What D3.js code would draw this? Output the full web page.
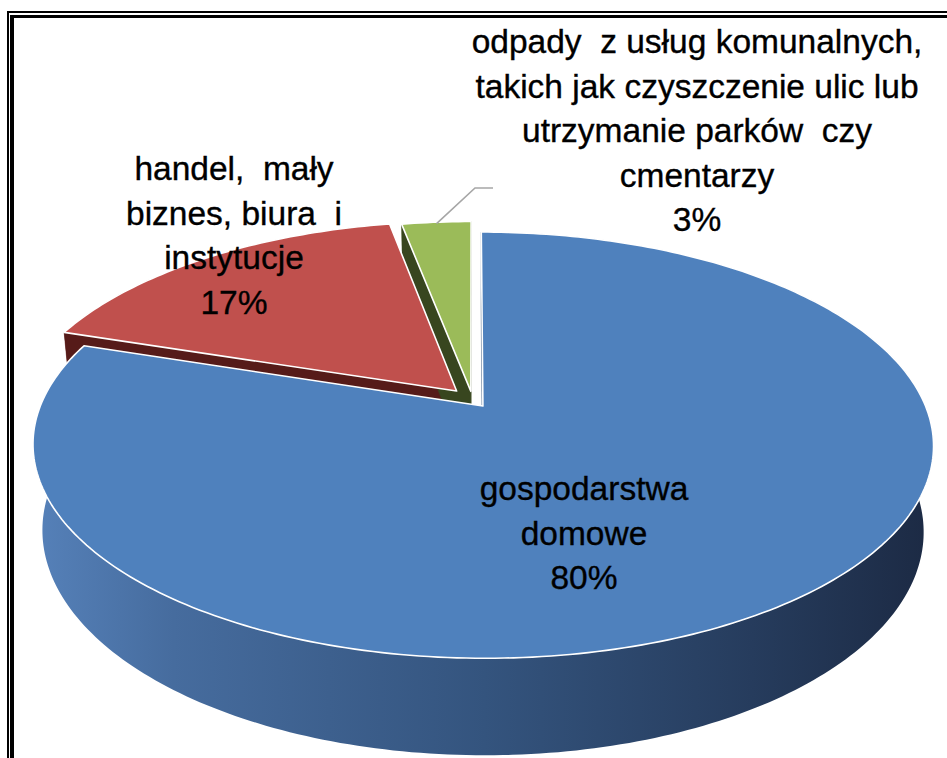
<!DOCTYPE html>
<html><head><meta charset="utf-8">
<script src="https://cdn.jsdelivr.net/npm/d3@7"></script>
<style>html,body{margin:0;padding:0;background:#fff;}svg{display:block;}</style>
</head><body>
<svg id="c" width="947" height="758"></svg>
<script>
// ---- data ----
const categories = ["gospodarstwa domowe", "handel, mały biznes, biura i instytucje", "odpady z usług komunalnych, takich jak czyszczenie ulic lub utrzymanie parków czy cmentarzy"];
const values = [80, 17, 3];
const percentLabels = ["80%", "17%", "3%"];
const labelLines = [
  ["gospodarstwa", "domowe"],
  ["handel,  mały", "biznes, biura  i", "instytucje"],
  ["odpady  z usług komunalnych,", "takich jak czyszczenie ulic lub", "utrzymanie parków  czy", "cmentarzy"]
];
const topColors = ["#4f81bd", "#c0504d", "#9bbb59"];
const faceColors = ["#2c4a72", "#561b19", "#38461f"];
const explode = [0.04, 0.055, 0.04];

// ---- projection (perspective 3D pie) ----
const W = 947, H = 758;
const cx = 472.5, cy = 399.4, F = 440, D = 4.858;
const sinA = 0.4625, cosA = Math.sqrt(1 - sinA * sinA), f = F * D;
const depthH = 0.221;
function proj(u, v, y) {
  const depth = D - y * sinA - v * cosA;
  const up = y * cosA - v * sinA;
  return [cx + f * u / depth, cy - f * up / depth];
}

const svg = d3.select("#c");
const defs = svg.append("defs");
function grad(id, stops) {
  const g = defs.append("linearGradient").attr("id", id)
    .attr("gradientUnits", "userSpaceOnUse").attr("x1", 40).attr("x2", 930).attr("y1", 0).attr("y2", 0);
  stops.forEach(s => g.append("stop").attr("offset", s[0]).attr("stop-color", s[1]));
}
grad("sideBlue", [[0, "#5580b8"], [0.15, "#466c9e"], [0.5, "#34547e"], [0.8, "#263c5d"], [1, "#1c2a44"]]);
grad("sideRed", [[0, "#7a2826"], [1, "#4a1614"]]);
grad("sideGreen", [[0, "#5d7530"], [1, "#3c4a20"]]);
const sideFills = ["url(#sideBlue)", "url(#sideRed)", "url(#sideGreen)"];

const pie = d3.pie().sort(null).value(d => d)(values);
const line = d3.line();

const slices = pie.map((p, i) => {
  const mid = (p.startAngle + p.endAngle) / 2;
  const ou = Math.sin(mid) * explode[i], ov = -Math.cos(mid) * explode[i];
  const n = Math.max(4, Math.ceil((p.endAngle - p.startAngle) / (Math.PI / 180)));
  const angs = d3.range(n + 1).map(k => p.startAngle + (p.endAngle - p.startAngle) * k / n);
  const rim = (a, y) => proj(ou + Math.sin(a), ov - Math.cos(a), y);
  return {i, p, mid, ou, ov, angs, rim, center: y => proj(ou, ov, y)};
});

const gSides = svg.append("g"), gTops = svg.append("g");

function area2(pts) { let s = 0; for (let k = 0; k < pts.length; k++) { const a = pts[k], b = pts[(k + 1) % pts.length]; s += a[0] * b[1] - b[0] * a[1]; } return s / 2; }

slices.forEach(s => {
  const topArc = s.angs.map(a => s.rim(a, 0));
  const botArc = s.angs.map(a => s.rim(a, -depthH)).reverse();
  // outer curved side
  gSides.append("path").attr("d", line(topArc.concat(botArc)) + "Z")
    .attr("fill", sideFills[s.i]);
  // radial faces (start & end) with back-face culling
  [[s.p.startAngle, -1], [s.p.endAngle, 1]].forEach(([a, dir]) => {
    const pts = [s.center(0), s.rim(a, 0), s.rim(a, -depthH), s.center(-depthH)];
    if (area2(pts) * dir > 0) {
      gSides.append("path").attr("d", line(pts) + "Z").attr("fill", faceColors[s.i])
        .attr("stroke", faceColors[s.i]).attr("stroke-width", 0.5);
    }
  });
  // top face
  gTops.append("path").attr("d", line([s.center(0)].concat(topArc)) + "Z")
    .attr("fill", topColors[s.i]).attr("stroke", "#fff").attr("stroke-width", 1.6)
    .attr("stroke-linejoin", "round");
});

// leader line for the small slice
const gs = slices[2];
const lp0 = proj(gs.ou + Math.sin(gs.mid) * 0.99, gs.ov - Math.cos(gs.mid) * 0.99, 0);
svg.append("path").attr("d", line([lp0, [475, 188], [493, 188]]))
  .attr("fill", "none").attr("stroke", "#a6a6a6").attr("stroke-width", 1.6);

// labels
const font = "'Liberation Sans', Arial, sans-serif";
const labelPos = [
  {x: 584, y: 500},
  {x: 234, y: 180},
  {x: 697, y: 53}
];
const lh = 44.5;
labelPos.forEach((lp, i) => {
  const lines = labelLines[i].concat([percentLabels[i]]);
  const t = svg.append("text").attr("font-family", font).attr("font-size", 33.5)
    .attr("fill", "#000").attr("stroke", "#000").attr("stroke-width", 0.35)
    .attr("text-anchor", "middle").style("white-space", "pre");
  lines.forEach((l, k) => t.append("tspan").attr("x", lp.x).attr("y", lp.y + k * lh).text(l));
});

// double border (extends past right/bottom edges)
const bd = svg.append("g").attr("fill", "none").attr("stroke", "#000");
bd.append("line").attr("x1", 7).attr("x2", W + 5).attr("y1", 12).attr("y2", 12).attr("stroke-width", 2);
bd.append("line").attr("x1", 10).attr("x2", W + 5).attr("y1", 16.5).attr("y2", 16.5).attr("stroke-width", 3);
bd.append("line").attr("x1", 8).attr("x2", 8).attr("y1", 11).attr("y2", H + 5).attr("stroke-width", 2);
bd.append("line").attr("x1", 12).attr("x2", 12).attr("y1", 15).attr("y2", H + 5).attr("stroke-width", 4);
</script>
</body></html>
